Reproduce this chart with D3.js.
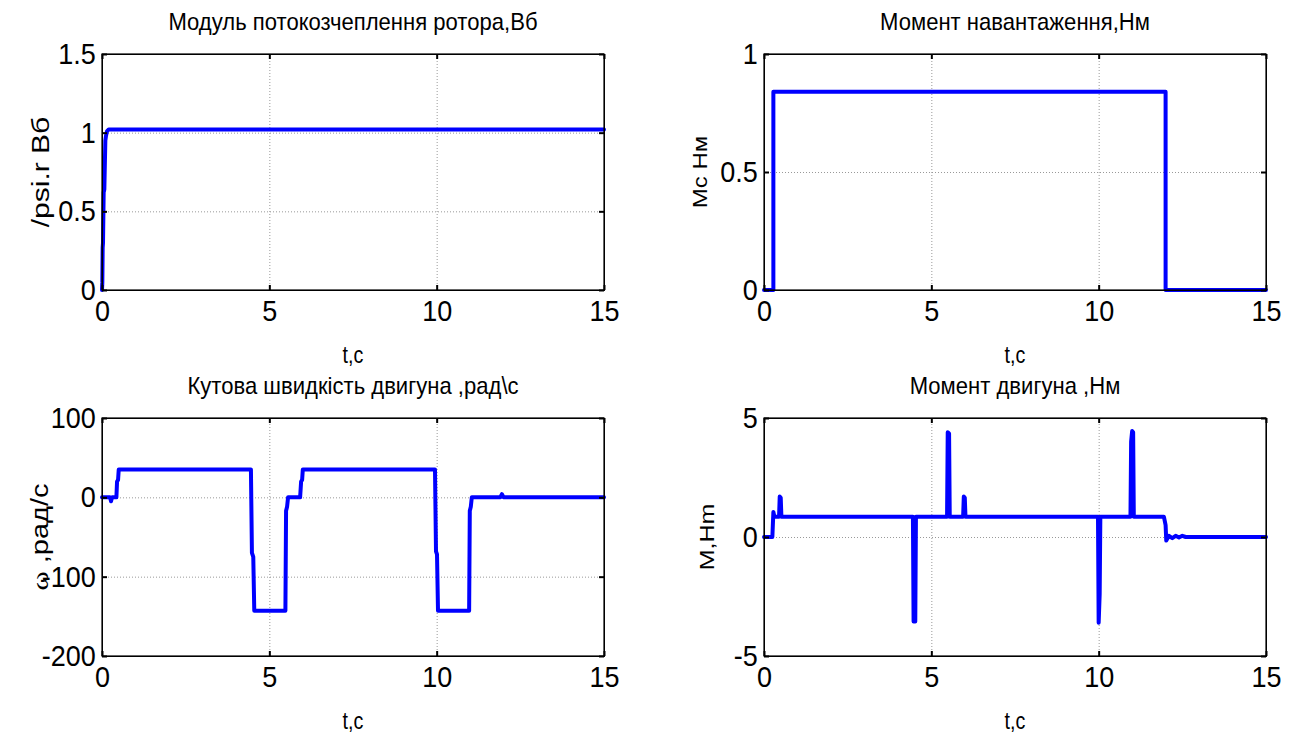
<!DOCTYPE html>
<html>
<head>
<meta charset="utf-8">
<script src="https://cdn.jsdelivr.net/npm/d3@7"></script>
<style>
  body { margin: 0; background: #fff; }
  svg { display: block; font-family: "Liberation Sans", Arial, sans-serif; }
</style>
</head>
<body>
<svg id="fig" width="1301" height="734"></svg>
<script>
// time axis shared by all four plots
var tTicks = [0, 5, 10, 15]

// rotor flux linkage, Wb
var psiT = [0, 0.01, 0.02, 0.03, 0.05, 0.07, 0.1, 0.12, 0.15, 0.2, 15]
var psiV = [0, 0.05, 0.27, 0.3, 0.62, 0.64, 0.95, 0.98, 1.01, 1.02, 1.02]
var psiTicks = [0, 0.5, 1, 1.5]

// load torque, Nm
var mcT = [0, 0.28, 0.28, 12.0, 12.0, 15]
var mcV = [0, 0, 0.84, 0.84, 0, 0]
var mcTicks = [0, 0.5, 1]

// angular speed, rad/s
var wT = [0, 0.24, 0.27, 0.3, 0.43, 0.45, 0.48, 0.5,
    4.45, 4.48, 4.52, 4.55, 5.48, 5.5, 5.53, 5.56,
    5.92, 5.95, 5.98, 6.0, 9.95, 9.98, 10.01, 10.04,
    10.97, 10.99, 11.02, 11.05, 11.9, 11.95, 12.0, 15]
var wV = [0, 0, -5, 0, 0, 20, 22, 35,
    35, -70, -75, -143, -143, -17, -12, 0,
    0, 20, 22, 35, 35, -68, -72, -143,
    -143, -17, -12, 0, 0, 4, 0, 0]
var wTicks = [-200, -100, 0, 100]

// motor torque, Nm
var mT = [0, 0.25, 0.28, 0.31, 0.45, 0.47, 0.5, 0.52,
    4.45, 4.47, 4.52, 4.54, 5.47, 5.49, 5.53, 5.55,
    5.95, 5.97, 6.0, 6.02, 9.98, 10.0, 10.03, 10.05,
    10.95, 10.97, 11.0, 11.03, 11.05, 11.95, 12.0, 12.02,
    12.1, 12.2, 12.3, 12.4, 12.5, 12.6, 15]
var mV = [0, 0, 1.05, 0.85, 0.85, 1.7, 1.65, 0.85,
    0.85, -3.55, -3.55, 0.85, 0.85, 4.4, 4.35, 0.85,
    0.85, 1.7, 1.65, 0.85, 0.85, -3.6, -2.4, 0.85,
    0.85, 4.0, 4.45, 4.4, 0.85, 0.85, 0.5, -0.15,
    0.05, -0.05, 0.05, -0.02, 0.05, 0, 0]
var mTicks = [-5, 0, 5]

var svg = d3.select("#fig")
let line_color = "#0000ff"
let tick_font = 30
let tick_sx = 0.9
let label_font = 24

var panels = [
    { title: "Модуль потокозчеплення ротора,Вб", ylabel: "/psi.r Вб", yfont: 30, t: psiT, v: psiV, yt: psiTicks,
      left: 102, right: 604, top: 54, bottom: 290, ylx: 40 },
    { title: "Момент навантаження,Нм", ylabel: "Mc Hм", yfont: 24, t: mcT, v: mcV, yt: mcTicks,
      left: 764, right: 1266, top: 54, bottom: 290, ylx: 700 },
    { title: "Кутова швидкість двигуна ,рад\\с", ylabel: "omega", yfont: 29, t: wT, v: wV, yt: wTicks,
      left: 102, right: 604, top: 418, bottom: 656, ylx: 40 },
    { title: "Момент двигуна ,Нм", ylabel: "M,Hm", yfont: 25, t: mT, v: mV, yt: mTicks,
      left: 764, right: 1266, top: 418, bottom: 656, ylx: 707 }
]

function drawPanel(p) {
    var x = d3.scaleLinear().domain([0, 15]).range([p.left, p.right])
    var y = d3.scaleLinear().domain(d3.extent(p.yt)).range([p.bottom, p.top])
    var w = p.right - p.left, h = p.bottom - p.top
    var g = svg.append("g")

    // dotted grid
    g.append("g").attr("transform", "translate(0," + p.bottom + ")")
        .call(d3.axisBottom(x).tickValues(tTicks).tickSize(-h).tickFormat(""))
        .call(s => s.select(".domain").remove())
        .selectAll("line").attr("stroke", "#999").attr("stroke-dasharray", "1,2")
    g.append("g").attr("transform", "translate(" + p.left + ",0)")
        .call(d3.axisLeft(y).tickValues(p.yt).tickSize(-w).tickFormat(""))
        .call(s => s.select(".domain").remove())
        .selectAll("line").attr("stroke", "#999").attr("stroke-dasharray", "1,2")

    // data line
    var pts = p.t.map((t, i) => [t, p.v[i]])
    g.append("path")
        .datum(pts)
        .attr("fill", "none")
        .attr("stroke", line_color)
        .attr("stroke-width", 4)
        .attr("stroke-linejoin", "round")
        .attr("stroke-linecap", "round")
        .attr("d", d3.line().x(d => x(d[0])).y(d => y(d[1])))

    // axes with ticks pointing inside, mirrored on top/right
    var fmt = d => String(d)
    var xb = g.append("g").attr("transform", "translate(0," + p.bottom + ")")
        .call(d3.axisBottom(x).tickValues(tTicks).tickSize(-5).tickPadding(10).tickFormat(fmt))
    var yl = g.append("g").attr("transform", "translate(" + p.left + ",0)")
        .call(d3.axisLeft(y).tickValues(p.yt).tickSize(-5).tickPadding(7).tickFormat(fmt))
    g.append("g").attr("transform", "translate(0," + p.top + ")")
        .call(d3.axisTop(x).tickValues(tTicks).tickSize(-5).tickFormat(""))
    g.append("g").attr("transform", "translate(" + p.right + ",0)")
        .call(d3.axisRight(y).tickValues(p.yt).tickSize(-5).tickFormat(""))

    g.selectAll(".domain").attr("stroke", "#000")
    g.selectAll(".tick line").filter(function () { return !this.getAttribute("stroke-dasharray") })
        .attr("stroke", "#000").attr("stroke-width", 2)
    xb.selectAll("text").attr("transform", "scale(" + tick_sx + ",1)")
    yl.selectAll("text").attr("transform", "scale(" + tick_sx + ",1)")
    g.selectAll(".tick text").style("font-size", tick_font + "px")
        .style("font-family", "'Liberation Sans', Arial, sans-serif").attr("fill", "#000")

    // box
    g.append("rect").attr("x", p.left).attr("y", p.top).attr("width", w).attr("height", h)
        .attr("fill", "none").attr("stroke", "#000").attr("stroke-width", 1.2)

    var cx = (p.left + p.right) / 2
    // title
    g.append("text")
        .attr("transform", "translate(" + cx + "," + (p.top - 24) + ") scale(0.92,1)")
        .attr("text-anchor", "middle")
        .style("font-size", label_font + "px")
        .text(p.title)
    // x label
    g.append("text")
        .attr("transform", "translate(" + cx + "," + (p.bottom + 73) + ") scale(0.82,1)")
        .attr("text-anchor", "middle")
        .style("font-size", label_font + "px")
        .text("t,c")
    // y label
    var yt = g.append("text")
        .attr("transform", "translate(" + p.ylx + "," + ((p.top + p.bottom) / 2) + ") scale(0.82,1) rotate(-90)")
        .attr("text-anchor", "middle")
        .attr("dy", "0.35em")
        .style("font-size", p.yfont + "px")
    if (p.ylabel == "omega") {
        yt.append("tspan").style("font-family", "'Liberation Serif', serif").text("ω")
        yt.append("tspan").text("  ,рад/с")
    } else {
        yt.text(p.ylabel)
    }
}

panels.forEach(drawPanel)
</script>
</body>
</html>
